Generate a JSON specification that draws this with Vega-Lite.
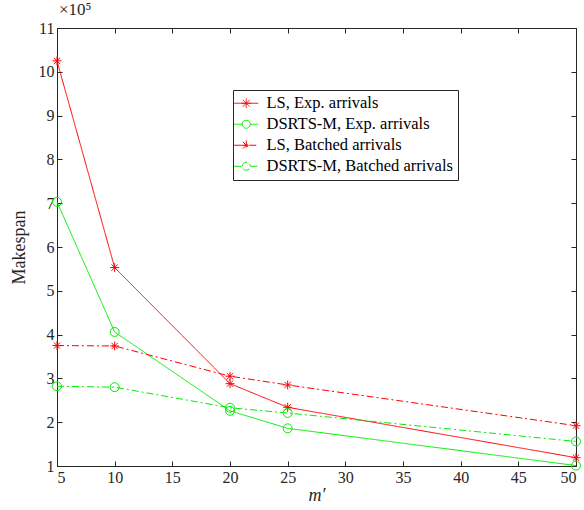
{
  "$schema": "https://vega.github.io/schema/vega-lite/v6.json",
  "autosize": "none",
  "width": 519,
  "height": 438,
  "padding": {"left": 57, "top": 28, "right": 8, "bottom": 44},
  "background": "white",
  "config": {
    "font": "Liberation Serif",
    "view": {"stroke": "#262626", "strokeWidth": 1},
    "axis": {
      "grid": false,
      "domainColor": "#262626",
      "tickColor": "#262626",
      "labelColor": "#262626",
      "titleColor": "#262626",
      "labelFont": "Liberation Serif",
      "titleFont": "Liberation Serif",
      "labelFontSize": 16,
      "titleFontSize": 18,
      "titleFontWeight": "normal",
      "tickSize": -5
    }
  },
  "title": {
    "text": "×10⁵",
    "anchor": "start",
    "frame": "group",
    "font": "Liberation Serif",
    "fontSize": 17,
    "fontWeight": "normal",
    "color": "#262626",
    "offset": 1,
    "dx": 2
  },
  "resolve": {"axis": {"x": "independent", "y": "independent"}},
  "data": {
    "values": [
      {"m": 5, "makespan": 1025000, "series": "LS, Exp. arrivals"},
      {"m": 10, "makespan": 553000, "series": "LS, Exp. arrivals"},
      {"m": 20, "makespan": 288000, "series": "LS, Exp. arrivals"},
      {"m": 25, "makespan": 234000, "series": "LS, Exp. arrivals"},
      {"m": 50, "makespan": 119000, "series": "LS, Exp. arrivals"},
      {"m": 5, "makespan": 703000, "series": "DSRTS-M, Exp. arrivals"},
      {"m": 10, "makespan": 406000, "series": "DSRTS-M, Exp. arrivals"},
      {"m": 20, "makespan": 226000, "series": "DSRTS-M, Exp. arrivals"},
      {"m": 25, "makespan": 186000, "series": "DSRTS-M, Exp. arrivals"},
      {"m": 50, "makespan": 101000, "series": "DSRTS-M, Exp. arrivals"},
      {"m": 5, "makespan": 375000, "series": "LS, Batched arrivals"},
      {"m": 10, "makespan": 374000, "series": "LS, Batched arrivals"},
      {"m": 20, "makespan": 305000, "series": "LS, Batched arrivals"},
      {"m": 25, "makespan": 285000, "series": "LS, Batched arrivals"},
      {"m": 50, "makespan": 192000, "series": "LS, Batched arrivals"},
      {"m": 5, "makespan": 282000, "series": "DSRTS-M, Batched arrivals"},
      {"m": 10, "makespan": 280000, "series": "DSRTS-M, Batched arrivals"},
      {"m": 20, "makespan": 233000, "series": "DSRTS-M, Batched arrivals"},
      {"m": 25, "makespan": 221000, "series": "DSRTS-M, Batched arrivals"},
      {"m": 50, "makespan": 156000, "series": "DSRTS-M, Batched arrivals"}
    ]
  },
  "encoding": {
    "x": {
      "field": "m",
      "type": "quantitative",
      "scale": {"domain": [5, 50], "nice": false, "zero": false},
      "axis": {"values": [5, 10, 15, 20, 25, 30, 35, 40, 45, 50], "title": "m′", "titleFontStyle": "italic", "labelPadding": 8, "titlePadding": 1}
    },
    "y": {
      "field": "makespan",
      "type": "quantitative",
      "scale": {"domain": [100000, 1100000], "nice": false, "zero": false},
      "axis": {"values": [100000, 200000, 300000, 400000, 500000, 600000, 700000, 800000, 900000, 1000000, 1100000], "labelExpr": "format(datum.value/100000, 'd')", "title": "Makespan", "labelPadding": 8, "titlePadding": 10}
    }
  },
  "layer": [
    {
      "mark": {"type": "line", "strokeWidth": 1},
      "encoding": {
        "color": {
          "field": "series",
          "type": "nominal",
          "sort": null,
          "scale": {
            "domain": ["LS, Exp. arrivals", "DSRTS-M, Exp. arrivals", "LS, Batched arrivals", "DSRTS-M, Batched arrivals"],
            "range": ["#ff0000", "#00ee00", "#ff0000", "#00ee00"]
          },
          "legend": {
            "title": null,
            "orient": "none",
            "legendX": 176,
            "legendY": 62,
            "strokeColor": "#262626",
            "fillColor": "white",
            "padding": 5,
            "labelFont": "Liberation Serif",
            "labelFontSize": 16.5,
            "labelColor": "#000000",
            "labelLimit": 400,
            "symbolSize": 64,
            "symbolStrokeWidth": 1,
            "symbolFillColor": "transparent",
            "rowPadding": 4,
            "labelOffset": 12,
            "encode": {
              "symbols": {
                "update": {
                  "shape": {"signal": "test(/^LS/, datum.value) ? 'M-3,0L3,0M-1.2,0L1.2,0M0,-1.2L0,1.2M-0.85,-0.85L0.85,0.85M-0.85,0.85L0.85,-0.85' : 'M-3,0L-1,0M1,0L3,0M-1,0A1,1 0 1,1 1,0A1,1 0 1,1 -1,0'"},
                  "fill": {"value": "transparent"}
                }
              }
            }
          }
        },
        "strokeDash": {
          "field": "series",
          "type": "nominal",
          "sort": null,
          "scale": {
            "domain": ["LS, Exp. arrivals", "DSRTS-M, Exp. arrivals", "LS, Batched arrivals", "DSRTS-M, Batched arrivals"],
            "range": [[1, 0], [1, 0], [7, 3, 2, 3], [7, 3, 2, 3]]
          },
          "legend": null
        }
      }
    },
    {
      "transform": [{"filter": "indexof(datum.series, 'LS') == 0"}],
      "mark": {"type": "point", "filled": false, "strokeWidth": 1, "size": 80, "opacity": 1, "color": "#ff0000", "shape": "M-1,0L1,0M0,-1L0,1M-0.7,-0.7L0.7,0.7M-0.7,0.7L0.7,-0.7"},
      "encoding": {
        "x": {"field": "m", "type": "quantitative", "axis": null},
        "y": {"field": "makespan", "type": "quantitative", "axis": null}
      }
    },
    {
      "transform": [{"filter": "indexof(datum.series, 'DSRTS') == 0"}],
      "mark": {"type": "point", "filled": false, "strokeWidth": 1, "size": 80, "opacity": 1, "color": "#00ee00", "shape": "circle"},
      "encoding": {
        "x": {"field": "m", "type": "quantitative", "axis": null},
        "y": {"field": "makespan", "type": "quantitative", "axis": null}
      }
    },
    {
      "mark": {"type": "point", "opacity": 0},
      "encoding": {
        "color": {"value": "transparent"},
        "x": {
          "field": "m",
          "type": "quantitative",
          "axis": {"orient": "top", "values": [5, 10, 15, 20, 25, 30, 35, 40, 45, 50], "labels": false, "title": null, "domain": false}
        },
        "y": {
          "field": "makespan",
          "type": "quantitative",
          "axis": {"orient": "right", "values": [100000, 200000, 300000, 400000, 500000, 600000, 700000, 800000, 900000, 1000000, 1100000], "labels": false, "title": null, "domain": false}
        }
      }
    }
  ]
}
